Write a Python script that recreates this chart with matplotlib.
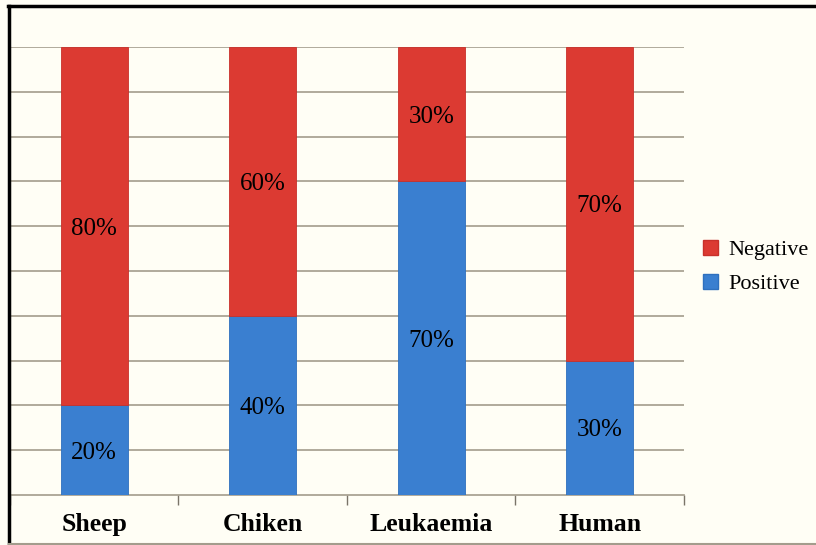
import matplotlib.pyplot as plt
import numpy as np
from matplotlib.lines import Line2D
from matplotlib.patches import Patch

plt.rcParams['font.family'] = ['Liberation Serif', 'DejaVu Serif']

categories = ['Sheep', 'Chiken', 'Leukaemia', 'Human']
positive = [20, 40, 70, 30]
negative = [80, 60, 30, 70]

c_pos = '#3A7FD0'
c_neg = '#DC3A32'
bg = '#FFFEF5'
grid_c = '#A39C8C'

fig = plt.figure(figsize=(8.16, 5.45), dpi=100, facecolor=bg)
ax = fig.add_axes([10 / 816, 1 - 495 / 545, 674 / 816, 448 / 545])
ax.set_facecolor(bg)

x = np.arange(len(categories))
w = 0.4
ax.bar(x, positive, width=w, color=c_pos, edgecolor='#2F70BE', linewidth=0.6, zorder=3)
ax.bar(x, negative, width=w, bottom=positive, color=c_neg, edgecolor='#C8302A', linewidth=0.6, zorder=3)

for i in range(len(categories)):
    ax.text(x[i], positive[i] / 2, f'{positive[i]}%', ha='center', va='center_baseline',
            fontsize=18, color='black', zorder=4)
    ax.text(x[i], positive[i] + negative[i] / 2, f'{negative[i]}%', ha='center',
            va='center_baseline', fontsize=18, color='black', zorder=4)

ax.set_xlim(-0.5, len(categories) - 0.5)
ax.set_ylim(0, 100)
ax.set_yticks(np.arange(10, 101, 10))
ax.yaxis.grid(True, color=grid_c, linewidth=1.2, zorder=0)
ax.tick_params(axis='y', left=False, labelleft=False)

ax.set_xticks(x)
ax.set_xticklabels(categories, fontsize=18.5, fontweight='bold')
ax.tick_params(axis='x', which='major', length=0, pad=13)
ax.set_xticks(np.arange(-0.5, len(categories), 1.0), minor=True)
ax.tick_params(axis='x', which='minor', length=7, width=1.0, color='#7A7468')

for s in ['top', 'right']:
    ax.spines[s].set_visible(False)
ax.spines['left'].set_color('#8C8472')
ax.spines['left'].set_linewidth(1.5)
ax.spines['bottom'].set_color(grid_c)
ax.spines['bottom'].set_linewidth(1.2)

handles = [Patch(facecolor=c_neg, edgecolor='#C8302A', label='Negative'),
           Patch(facecolor=c_pos, edgecolor='#2F70BE', label='Positive')]
fig.legend(handles=handles, loc='center left', bbox_to_anchor=(699 / 816, 1 - 267 / 545),
           frameon=False, fontsize=16, handlelength=0.65, handleheight=0.65,
           handletextpad=0.45, labelspacing=0.6, borderpad=0.1, borderaxespad=0.1)

# outer frame
fig.add_artist(Line2D([8 / 816, 1], [1 - 6 / 545] * 2, color='black', linewidth=2.5,
                      transform=fig.transFigure))
fig.add_artist(Line2D([9 / 816] * 2, [0, 1 - 6 / 545], color='black', linewidth=2.5,
                      transform=fig.transFigure))
fig.add_artist(Line2D([9 / 816, 1], [1 - 544 / 545] * 2, color=grid_c, linewidth=1.5,
                      transform=fig.transFigure))

fig.savefig('out.png', dpi=100, facecolor=bg)
